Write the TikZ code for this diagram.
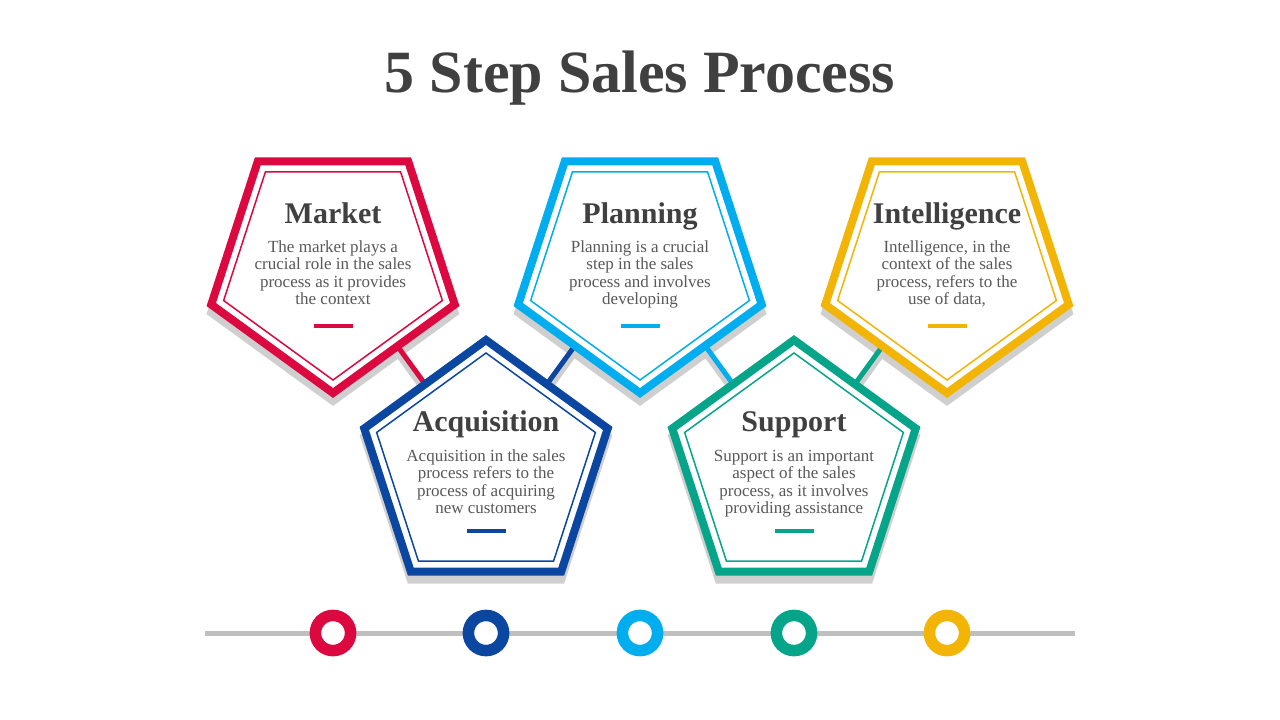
\documentclass[tikz,border=0pt]{standalone}
\usepackage{fontspec}
\setmainfont{Liberation Serif}
\usetikzlibrary{calc}
\definecolor{cred}{RGB}{220,8,64}
\definecolor{cdblue}{RGB}{11,71,161}
\definecolor{clblue}{RGB}{0,174,239}
\definecolor{cteal}{RGB}{6,165,138}
\definecolor{cyellow}{RGB}{242,181,5}
\definecolor{titlec}{RGB}{64,64,64}
\definecolor{bodyc}{RGB}{89,89,89}
\definecolor{shadowc}{RGB}{207,207,207}
\definecolor{linec}{RGB}{191,191,191}
\begin{document}
\begin{tikzpicture}[x=1pt,y=-1pt,
  head/.style={font=\fontsize{30}{32}\selectfont\bfseries, text=titlec, anchor=base, inner sep=0pt},
  body/.style={font=\fontsize{17}{17.5}\selectfont, text=bodyc, anchor=base, inner sep=0pt},
  outerline/.style={line width=8pt, line join=miter},
  innerline/.style={line width=1.5pt, line join=miter},
  conn/.style={line width=5pt},
  ring/.style={circle, draw=#1, fill=white, line width=11.5pt, minimum size=35.2pt, inner sep=0pt}
]
\useasboundingbox (0,0) rectangle (1280,720);
\fill[white] (0,0) rectangle (1280,720);

% title
\node[font=\fontsize{60}{64}\selectfont\bfseries, text=titlec, anchor=base, inner sep=0pt] (title) at (640,92) {5 Step Sales Process};

% shadows of pentagons
\foreach \cx/\cy/\rot in {333/265/90, 640/265/90, 947/265/90, 486/468/270, 794/468/270}{
  \filldraw[shadowc, outerline, shift={(\cx,\cy+8)}] (\rot:128) -- (\rot+72:128) -- (\rot+144:128) -- (\rot+216:128) -- (\rot+288:128) -- cycle;
}

% connector end points
\coordinate (c2) at (486,468);
\coordinate (c4) at (794,468);
\coordinate (a1) at ($(c2)+(234:103.6)$);
\coordinate (a2) at ($(c2)+(234:150.6)$);
\coordinate (b1) at ($(c2)+(306:103.6)$);
\coordinate (b2) at ($(c2)+(306:150.6)$);
\coordinate (d1) at ($(c4)+(234:103.6)$);
\coordinate (d2) at ($(c4)+(234:150.6)$);
\coordinate (e1) at ($(c4)+(306:103.6)$);
\coordinate (e2) at ($(c4)+(306:150.6)$);

% connector shadows
\foreach \p/\q in {a1/a2, b1/b2, d1/d2, e1/e2}{
  \draw[conn, shadowc] ($(\p)+(0,8)$) -- ($(\q)+(0,8)$);
}
% connectors
\draw[conn, cred] (a2) -- (a1);
\draw[conn, cdblue] (b1) -- (b2);
\draw[conn, clblue] (d2) -- (d1);
\draw[conn, cteal] (e1) -- (e2);

% pentagons
\foreach \cx/\cy/\rot/\col in {333/265/90/cred, 640/265/90/clblue, 947/265/90/cyellow, 486/468/270/cdblue, 794/468/270/cteal}{
  \filldraw[fill=white, draw=\col, outerline, shift={(\cx,\cy)}] (\rot:128) -- (\rot+72:128) -- (\rot+144:128) -- (\rot+216:128) -- (\rot+288:128) -- cycle;
  \draw[\col, innerline, shift={(\cx,\cy)}] (\rot:115) -- (\rot+72:115) -- (\rot+144:115) -- (\rot+216:115) -- (\rot+288:115) -- cycle;
}

% bars
\fill[cred] (313.5,324) rectangle (352.5,328);
\fill[clblue] (620.5,324) rectangle (659.5,328);
\fill[cyellow] (927.5,324) rectangle (966.5,328);
\fill[cdblue] (466.5,529) rectangle (505.5,533);
\fill[cteal] (774.5,529) rectangle (813.5,533);

% texts
\node[head] (h1) at (333,223) {Market};
\node[body] (t1) at (333,252) {\begin{tabular}[t]{@{}c@{}}The market plays a\\crucial role in the sales\\process as it provides\\the context\end{tabular}};
\node[head] (h3) at (640,223) {Planning};
\node[body] (t3) at (640,252) {\begin{tabular}[t]{@{}c@{}}Planning is a crucial\\step in the sales\\process and involves\\developing\end{tabular}};
\node[head] (h5) at (947,223) {Intelligence};
\node[body] (t5) at (947,252) {\begin{tabular}[t]{@{}c@{}}Intelligence, in the\\context of the sales\\process, refers to the\\use of data,\end{tabular}};
\node[head] (h2) at (486,431) {Acquisition};
\node[body] (t2) at (486,461) {\begin{tabular}[t]{@{}c@{}}Acquisition in the sales\\process refers to the\\process of acquiring\\new customers\end{tabular}};
\node[head] (h4) at (794,431) {Support};
\node[body] (t4) at (794,461) {\begin{tabular}[t]{@{}c@{}}Support is an important\\aspect of the sales\\process, as it involves\\providing assistance\end{tabular}};

% timeline
\coordinate (tlL) at (205,633);
\coordinate (tlR) at (1075,633);
\draw[linec, line width=5pt] (tlL) -- (tlR);
\node[ring=cred] (r1) at (333,633) {};
\node[ring=cdblue] (r2) at (486,633) {};
\node[ring=clblue] (r3) at (640,633) {};
\node[ring=cteal] (r4) at (794,633) {};
\node[ring=cyellow] (r5) at (947,633) {};
\end{tikzpicture}
\end{document}
